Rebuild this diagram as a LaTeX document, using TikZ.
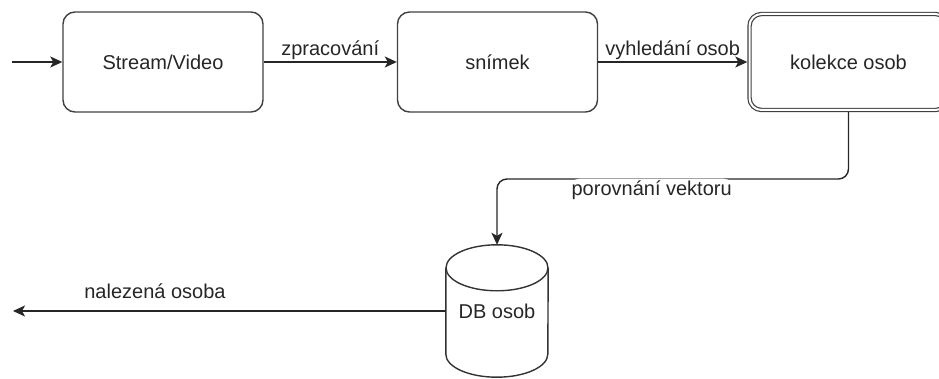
\documentclass[tikz,border=0pt]{standalone}
\usepackage{fontspec}
\setmainfont{Liberation Sans}
\usetikzlibrary{arrows.meta}

\begin{document}
\begin{tikzpicture}[x=1pt,y=1pt,
        box/.style={draw=black!75,line width=1.4pt,rounded corners=12pt,minimum width=200pt,minimum height=100pt,font=\fontsize{20}{24}\selectfont,text=black!85},
        conn/.style={draw=black!85,line width=1.4pt,-{Stealth[length=12pt,width=11pt,inset=3pt]}},
        lbl/.style={font=\fontsize{20}{24}\selectfont,text=black!85,inner sep=2pt},
        cyl/.style={draw=black!80,line width=1.4pt}]
    \useasboundingbox (0,0) rectangle (939,378);

    \coordinate (in) at (12,316);
    \node[box] (video) at (163,316) {Stream/Video};
    \node[box] (snimek) at (497.5,316) {snímek};
    \node[box,double=white,double distance=2pt,line width=1.2pt,minimum width=198pt,minimum height=96pt,outer sep=2.2pt] (kolekce) at (848.5,316) {kolekce osob};
    \coordinate (turn) at (497,199);

    % databaze jako valec
    \node[minimum width=102pt,minimum height=132pt,inner sep=0pt,font=\fontsize{20}{24}\selectfont,text=black!85] (db) at (497,67) {DB osob};
    \draw[cyl] ([yshift=-23pt]db.north west) -- ([yshift=23pt]db.south west)
        arc[start angle=180,end angle=360,x radius=51pt,y radius=23pt] -- ([yshift=-23pt]db.north east);
    \draw[cyl] ([yshift=-23pt]db.north) ellipse[x radius=51pt,y radius=23pt];
    \coordinate (out) at (13,67);

    \draw[conn] (in) -- (video);
    \draw[conn] (video) -- node[lbl,above] (zprac) {zpracování} (snimek);
    \draw[conn] (snimek) -- node[lbl,above] (vyhl) {vyhledání osob} (kolekce);
    \draw[conn,rounded corners=10pt] (kolekce.south) |- (turn)
        node[lbl,pos=0.78,anchor=north,fill=white,yshift=1pt] (porov) {porovnání vektoru} -- (db.north);
    \draw[conn] (db.west) -- node[lbl,pos=0.672,above=10pt] (nalez) {nalezená osoba} (out);
\end{tikzpicture}
\end{document}
